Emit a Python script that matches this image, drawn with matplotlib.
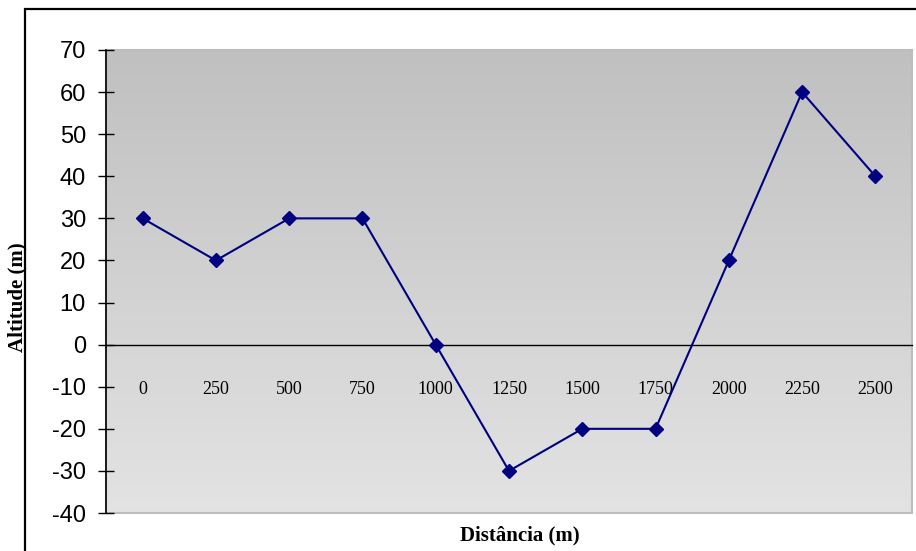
import numpy as np
import matplotlib.pyplot as plt
from matplotlib.patches import Rectangle

# dados do perfil
distancias = ['0', '250', '500', '750', '1000', '1250', '1500', '1750', '2000', '2250', '2500']
altitudes = [30, 20, 30, 30, 0, -30, -20, -20, 20, 60, 40]
y_ticks = list(range(-40, 71, 10))

LINE_COLOR = '#000080'
SANS = 'Liberation Sans'
SERIF = 'Liberation Serif'

fig = plt.figure(figsize=(9.16, 5.51), dpi=100)
ax = fig.add_axes([106 / 916, 1 - 513 / 551, 806 / 916, 463 / 551])

x = np.arange(len(distancias))
ax.set_xlim(-0.5, len(distancias) - 0.5)
ax.set_ylim(-40, 70)

# fundo em degradê (escuro em cima, claro em baixo)
grad = np.linspace(0, 1, 256).reshape(-1, 1)
ax.imshow(grad, cmap=plt.matplotlib.colors.LinearSegmentedColormap.from_list(
    'g', ['#e3e3e3', '#c0c0c0']), origin='lower', aspect='auto',
    extent=(-0.5, len(distancias) - 0.5, -40, 70), zorder=0)

ax.add_patch(Rectangle((0, 0), 1, 1, transform=ax.transAxes, fill=False,
                       edgecolor='#bdbdbd', lw=1.5, zorder=1, clip_on=False))

ax.plot(x, altitudes, color=LINE_COLOR, lw=1.5, marker='D', markersize=7,
        markerfacecolor=LINE_COLOR, markeredgecolor=LINE_COLOR, zorder=3)

for s in ['top', 'right']:
    ax.spines[s].set_visible(False)
ax.spines['left'].set_color('black')
ax.spines['left'].set_linewidth(1.2)
ax.spines['bottom'].set_position(('data', 0))
ax.spines['bottom'].set_color('black')
ax.spines['bottom'].set_linewidth(1.0)

ax.set_yticks(y_ticks)
ax.set_yticklabels([str(v) for v in y_ticks], fontfamily=SANS, fontsize=17)
ax.tick_params(axis='y', direction='inout', length=11, width=1, pad=9)

ax.set_xticks(x)
ax.set_xticklabels(distancias, fontfamily=SERIF, fontsize=13)
ax.tick_params(axis='x', length=0, pad=26)

fig.text(520 / 916, 1 - 535 / 551, 'Distância (m)', ha='center', va='center',
         fontfamily=SERIF, fontweight='bold', fontsize=15)
fig.text(17 / 916, 1 - 297 / 551, 'Altitude (m)', ha='center', va='center',
         rotation=90, fontfamily=SERIF, fontweight='bold', fontsize=15)

# moldura externa
fig.add_artist(Rectangle((25 / 916, -0.05), 1.0, 1 - 9 / 551 + 0.05,
                         transform=fig.transFigure, fill=False,
                         edgecolor='black', lw=1.6))

fig.savefig('out.png', dpi=100)
plt.close(fig)
